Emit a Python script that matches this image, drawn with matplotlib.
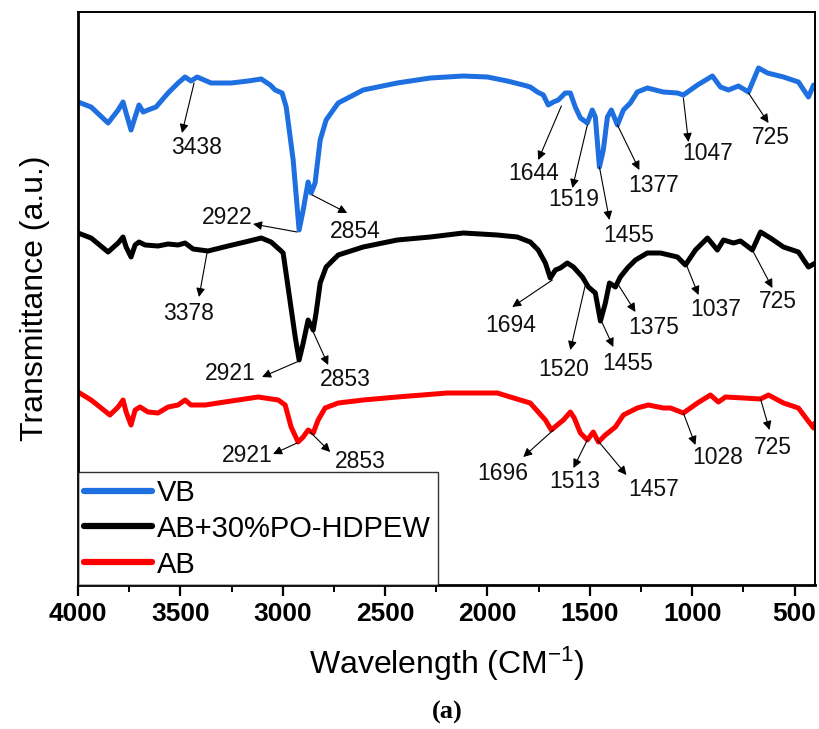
import matplotlib
matplotlib.use('Agg')
import matplotlib.pyplot as plt
from matplotlib.ticker import MultipleLocator

plt.rcParams['font.family'] = ['Liberation Sans', 'DejaVu Sans']
plt.rcParams['mathtext.fontset'] = 'custom'
plt.rcParams['mathtext.rm'] = 'Liberation Sans'
plt.rcParams['mathtext.default'] = 'regular'

# ---------------- data (wavenumber, transmittance a.u.) ----------------
vb_wn = [4000, 3936, 3853, 3804, 3780, 3765, 3741, 3721, 3702, 3682, 3658, 3619, 3560, 3511,
         3477, 3448, 3418, 3350, 3252, 3169, 3105, 3061, 3037, 3003, 2983, 2949, 2920, 2900,
         2876, 2861, 2842, 2817, 2788, 2729, 2607, 2441, 2279, 2118, 2000, 1903, 1825, 1791,
         1756, 1727, 1703, 1678, 1654, 1620, 1595, 1571, 1546, 1512, 1488, 1473, 1453, 1434,
         1414, 1395, 1365, 1336, 1302, 1268, 1219, 1141, 1072, 1043, 974, 901, 862, 823,
         774, 725, 676, 632, 554, 481, 432, 407, 400]
vb_t = [483, 478, 462, 475, 483, 472, 455, 468, 480, 473, 475, 478, 492, 502,
        508, 504, 508, 502, 502, 504, 506, 500, 495, 492, 478, 425, 355, 375,
        403, 392, 402, 445, 465, 482, 495, 502, 507, 509, 508, 504, 500, 498,
        493, 490, 480, 483, 485, 492, 492, 478, 467, 462, 475, 468, 418, 435,
        468, 475, 460, 475, 482, 493, 497, 493, 492, 490, 500, 509, 498, 495,
        499, 493, 517, 512, 508, 503, 488, 500, 498]

ab30_wn = [4000, 3936, 3853, 3804, 3780, 3765, 3741, 3721, 3702, 3672, 3609, 3560, 3511, 3477,
           3438, 3365, 3267, 3184, 3105, 3057, 3013, 2998, 2974, 2939, 2920, 2900, 2876, 2851,
           2837, 2817, 2788, 2729, 2607, 2441, 2279, 2118, 1952, 1854, 1791, 1752, 1717, 1693,
           1668, 1644, 1610, 1580, 1536, 1507, 1473, 1448, 1424, 1404, 1375, 1351, 1316, 1277,
           1219, 1155, 1072, 1033, 984, 925, 877, 847, 798, 764, 706, 666, 618, 554,
           481, 432, 398]
ab30_t = [352, 347, 333, 342, 348, 338, 328, 340, 343, 340, 339, 341, 340, 342,
          336, 334, 339, 343, 347, 343, 335, 332, 298, 248, 225, 242, 265, 255,
          272, 302, 318, 330, 338, 345, 348, 352, 350, 348, 343, 335, 322, 307,
          315, 317, 322, 318, 308, 298, 292, 264, 282, 302, 298, 308, 317, 325,
          332, 332, 328, 320, 335, 347, 335, 345, 342, 344, 335, 353, 347, 338,
          333, 318, 322]

ab_wn = [4000, 3936, 3844, 3804, 3780, 3765, 3741, 3721, 3697, 3658, 3609, 3560, 3511, 3477,
         3448, 3379, 3316, 3218, 3120, 3022, 2988, 2959, 2925, 2900, 2876, 2851, 2827, 2793,
         2729, 2607, 2441, 2196, 1952, 1840, 1791, 1752, 1717, 1688, 1659, 1629, 1595, 1576,
         1546, 1512, 1483, 1458, 1424, 1375, 1336, 1268, 1214, 1141, 1106, 1043, 974, 911,
         872, 837, 749, 666, 627, 554, 481, 437, 407, 400]
ab_t = [193, 185, 170, 178, 185, 173, 160, 175, 178, 173, 172, 178, 180, 185,
        180, 180, 182, 185, 188, 185, 180, 158, 143, 148, 155, 152, 165, 177,
        182, 185, 188, 192, 192, 185, 182, 173, 165, 155, 160, 165, 173, 167,
        152, 145, 153, 143, 150, 158, 170, 177, 180, 177, 177, 172, 182, 190,
        183, 188, 187, 186, 190, 182, 177, 165, 157, 162]

series_labels = ['VB', 'AB+30%PO-HDPEW', 'AB']
series_colors = ['#1E6FE0', '#000000', '#FF0000']

x_ticks = [4000, 3500, 3000, 2500, 2000, 1500, 1000, 500]

# peak annotations: label, arrow tail (on curve), arrow head, text centre
annotations = [
    # VB
    ('3438', (3433, 502), (3492, 452), (3423, 437)),
    ('2922', (2930, 353), (3145, 361), (3272, 367)),
    ('2854', (2856, 390), (2685, 372), (2646, 353)),
    ('1644', (1639, 479), (1752, 425), (1776, 412)),
    ('1519', (1512, 460), (1585, 397), (1580, 385)),
    ('1455', (1453, 418), (1404, 365), (1312, 350)),
    ('1377', (1365, 460), (1258, 415), (1189, 400)),
    ('1047', (1043, 487), (1018, 443), (925, 432)),
    ('725', (725, 492), (627, 462), (617, 448)),
    # AB+30%PO-HDPEW
    ('3378', (3369, 333), (3409, 288), (3462, 272)),
    ('2921', (2920, 224), (3101, 208), (3257, 211)),
    ('2853', (2851, 253), (2778, 220), (2695, 205)),
    ('1694', (1683, 305), (1879, 278), (1888, 260)),
    ('1520', (1522, 300), (1595, 235), (1629, 215)),
    ('1455', (1448, 266), (1385, 238), (1317, 222)),
    ('1375', (1360, 300), (1277, 273), (1189, 257)),
    ('1037', (1028, 320), (969, 290), (886, 275)),
    ('725', (706, 335), (608, 297), (583, 283)),
    # AB
    ('2921', (2930, 142), (3047, 131), (3174, 130)),
    ('2853', (2866, 153), (2768, 133), (2622, 123)),
    ('1696', (1678, 155), (1825, 128), (1923, 112)),
    ('1513', (1512, 145), (1580, 117), (1575, 103)),
    ('1457', (1463, 145), (1321, 110), (1189, 96)),
    ('1028', (1043, 172), (984, 140), (877, 128)),
    ('725', (666, 186), (622, 155), (608, 137)),
]

# ---------------- figure ----------------
fig = plt.figure(figsize=(8.19, 7.29), dpi=100)
ax = fig.add_axes([78 / 819, 1 - 585 / 729, (815 - 78) / 819, (585 - 12) / 729])

for wn, t, lab, col in zip([vb_wn, ab30_wn, ab_wn], [vb_t, ab30_t, ab_t],
                           series_labels, series_colors):
    ax.plot(wn, t, color=col, lw=3.6, label=lab, solid_joinstyle='round',
            solid_capstyle='round')

for lab, tail, head, txt in annotations:
    ax.annotate('', xy=head, xytext=tail,
                arrowprops=dict(arrowstyle='-|>', color='black', lw=0.8,
                                mutation_scale=13, shrinkA=0, shrinkB=0))
    ax.text(txt[0], txt[1], lab, ha='center', va='center', fontsize=16.5, color='#111111')

ax.set_xlim(4000, 400)
ax.set_ylim(0, 573)
ax.set_xticks(x_ticks)
ax.xaxis.set_minor_locator(MultipleLocator(250))
ax.set_yticks([])
ax.tick_params(axis='x', which='major', direction='out', length=8, width=1.6,
               labelsize=19, pad=4)
ax.tick_params(axis='x', which='minor', direction='out', length=5, width=1.4)
for lbl in ax.get_xticklabels():
    lbl.set_fontweight('bold')
for side in ['top', 'right']:
    ax.spines[side].set_linewidth(1.4)
for side in ['left', 'bottom']:
    ax.spines[side].set_linewidth(2.0)

ax.set_xlabel('Wavelength (CM$^{-1}$)', fontsize=23)
ax.xaxis.label.set_va('center')
ax.xaxis.set_label_coords(0.5, -(664 - 585) / 573)
ax.set_ylabel('Transmittance (a.u.)', fontsize=23)
ax.yaxis.label.set_va('center')
ax.yaxis.set_label_coords(-(78 - 35) / 737, 0.5)

leg = ax.legend(loc='lower left', bbox_to_anchor=(0, 0), borderaxespad=0,
                fontsize=21, frameon=True, fancybox=False, handlelength=2.3,
                handletextpad=0.2, labelspacing=0.27, borderpad=0.22)
leg.get_frame().set_edgecolor('black')
leg.get_frame().set_linewidth(1.0)
for h in leg.get_lines():
    h.set_linewidth(4.5)

fig.text(447 / 819, 1 - 712 / 729, '(a)', ha='center', va='center', fontsize=19,
         family='Liberation Serif', fontweight='bold')

fig.savefig('out.png', dpi=100)
